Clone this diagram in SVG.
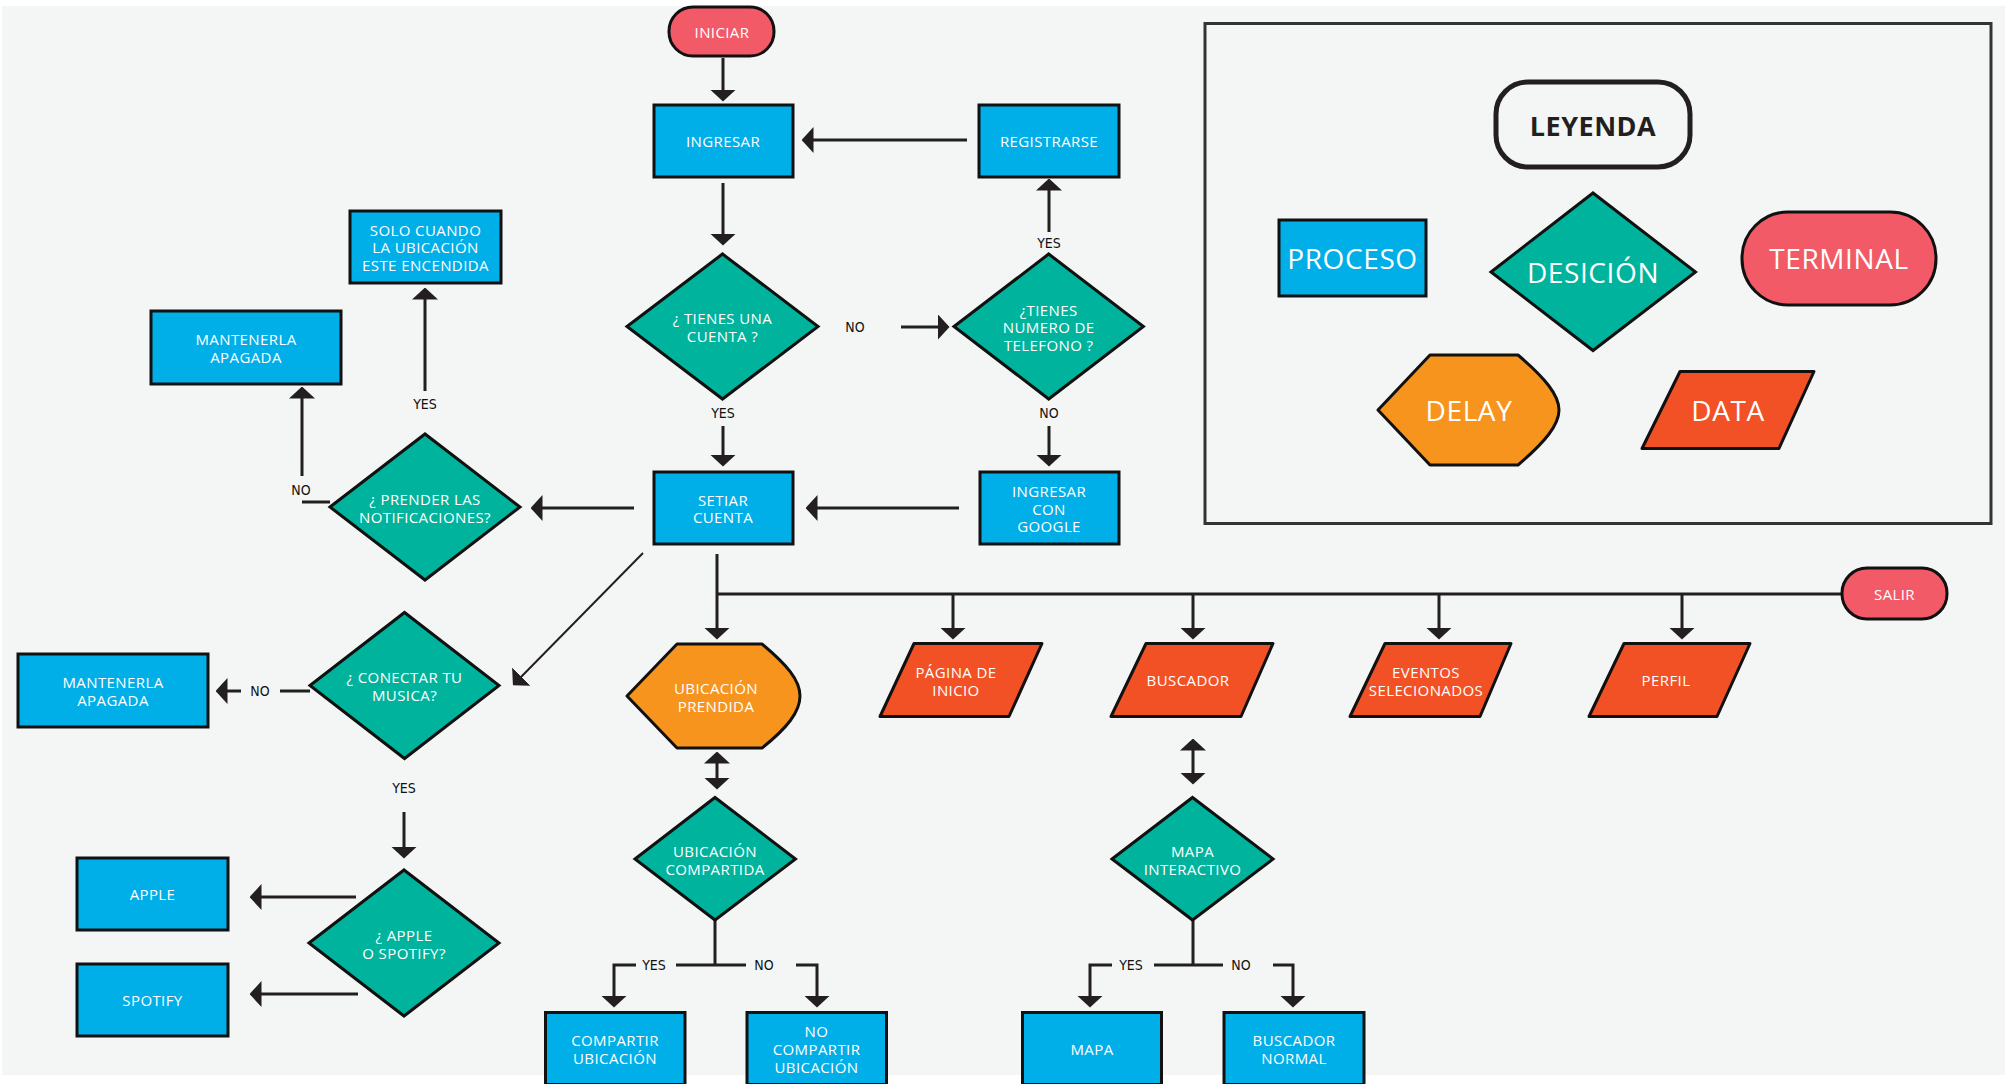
<svg xmlns="http://www.w3.org/2000/svg" width="2007" height="1084" viewBox="0 0 2007 1084">
<defs>
<marker id="ah" viewBox="0 0 12 26" markerWidth="12" markerHeight="26" refX="0.5" refY="13" orient="auto-start-reverse" markerUnits="userSpaceOnUse">
<path d="M0,0 L12,13 L0,26 Z" fill="#231f20"/>
</marker>
<style>
.proc{fill:#00aee8;stroke:#111;stroke-width:3}
.dec{fill:#00b39c;stroke:#111;stroke-width:3;stroke-linejoin:miter}
.term{fill:#f15a66;stroke:#111;stroke-width:3}
.delay{fill:#f7941e;stroke:#111;stroke-width:3;stroke-linejoin:round}
.data{fill:#f15125;stroke:#111;stroke-width:3;stroke-linejoin:round}
.t{font-family:"Open Sans","Noto Sans",sans-serif;font-size:15px;fill:#fff;text-anchor:middle;dominant-baseline:central;letter-spacing:0.4px}
.tl{font-family:"Open Sans","Noto Sans",sans-serif;font-size:28px;fill:#fff;text-anchor:middle;dominant-baseline:central;letter-spacing:0.6px}
.lab{font-family:"Liberation Sans Narrow","DejaVu Sans Condensed","Liberation Sans",sans-serif;font-size:14px;fill:#111;text-anchor:middle;dominant-baseline:central}
.c{fill:none;stroke:#231f20;stroke-width:3}
.ca{fill:none;stroke:#231f20;stroke-width:3;marker-end:url(#ah)}
</style>
</defs>
<rect x="0" y="0" width="2007" height="1084" fill="#ffffff"/>
<rect x="2" y="6" width="2003" height="1069" fill="#f4f6f5"/>

<g id="connectors">
<path class="ca" d="M723,58 L723,90"/>
<path class="ca" d="M723,183 L723,234"/>
<path class="ca" d="M967,140 L813,140"/>
<path class="ca" d="M901,327 L938,327"/>
<path class="ca" d="M1049,232 L1049,190"/>
<path class="ca" d="M723,426 L723,455"/>
<path class="ca" d="M1049,426 L1049,455"/>
<path class="ca" d="M959,508 L817,508"/>
<path class="ca" d="M634,508 L542,508"/>
<path class="ca" d="M425,391 L425,299"/>
<path class="c" d="M330,502 L302,502"/>
<path class="ca" d="M302,476 L302,398"/>
<path class="ca" style="stroke-width:2" d="M643,553 L521,677"/>
<path class="c" d="M310,691 L280,691"/>
<path class="ca" d="M241,691 L227,691"/>
<path class="ca" d="M404,812 L404,847"/>
<path class="ca" d="M356,897 L261,897"/>
<path class="ca" d="M358,994 L261,994"/>
<path class="ca" d="M717,554 L717,628"/>
<path class="c" d="M717,594 L1842,594"/>
<path class="ca" d="M953,594 L953,628"/>
<path class="ca" d="M1193,594 L1193,628"/>
<path class="ca" d="M1439,594 L1439,628"/>
<path class="ca" d="M1682,594 L1682,628"/>
<path class="c" style="marker-start:url(#ah);marker-end:url(#ah)" d="M717,763 L717,778"/>
<path class="c" style="marker-start:url(#ah);marker-end:url(#ah)" d="M1193,750 L1193,773"/>
<path class="c" d="M715,920 L715,965"/>
<path class="c" d="M676,965 L746,965"/>
<path class="ca" d="M636,965 L614,965 L614,996"/>
<path class="ca" d="M796,965 L817,965 L817,996"/>
<path class="c" d="M1193,920 L1193,965"/>
<path class="c" d="M1154,965 L1223,965"/>
<path class="ca" d="M1112,965 L1090,965 L1090,996"/>
<path class="ca" d="M1273,965 L1293,965 L1293,996"/>
<text class="lab" x="855" y="327">NO</text>
<text class="lab" x="1049" y="243">YES</text>
<text class="lab" x="723" y="413">YES</text>
<text class="lab" x="1049" y="413">NO</text>
<text class="lab" x="425" y="404">YES</text>
<text class="lab" x="301" y="490">NO</text>
<text class="lab" x="260" y="691">NO</text>
<text class="lab" x="404" y="788">YES</text>
<text class="lab" x="654" y="965">YES</text>
<text class="lab" x="764" y="965">NO</text>
<text class="lab" x="1131" y="965">YES</text>
<text class="lab" x="1241" y="965">NO</text>
</g>

<g id="iniciar"><rect class="term" x="669" y="7" width="105" height="49" rx="24"/><text class="t" x="722" y="32">INICIAR</text></g>
<g id="ingresar"><rect class="proc" x="654" y="105" width="139" height="72"/><text class="t" x="723" y="141">INGRESAR</text></g>
<g id="registrarse"><rect class="proc" x="979" y="105" width="140" height="72"/><text class="t" x="1049" y="141">REGISTRARSE</text></g>
<g id="tienes-cuenta"><polygon class="dec" points="627,326.5 722.5,254 818,326.5 722.5,399"/><text class="t" x="722.5" y="318">¿ TIENES UNA</text><text class="t" x="722.5" y="336">CUENTA ?</text></g>
<g id="tienes-telefono"><polygon class="dec" points="954,326.5 1048.7,254 1143.4,326.5 1048.7,399"/><text class="t" x="1048.7" y="310">¿TIENES</text><text class="t" x="1048.7" y="327">NUMERO DE</text><text class="t" x="1048.7" y="345">TELEFONO ?</text></g>
<g id="setiar"><rect class="proc" x="654" y="472" width="139" height="72"/><text class="t" x="723" y="500">SETIAR</text><text class="t" x="723" y="517">CUENTA</text></g>
<g id="google"><rect class="proc" x="980" y="472" width="139" height="72"/><text class="t" x="1049" y="491">INGRESAR</text><text class="t" x="1049" y="508.5">CON</text><text class="t" x="1049" y="526">GOOGLE</text></g>
<g id="prender"><polygon class="dec" points="330,507 425,434 520,507 425,580"/><text class="t" x="425" y="499">¿ PRENDER LAS</text><text class="t" x="425" y="517">NOTIFICACIONES?</text></g>
<g id="solo-cuando"><rect class="proc" x="350" y="211" width="151" height="72"/><text class="t" x="425.5" y="230">SOLO CUANDO</text><text class="t" x="425.5" y="247">LA UBICACIÓN</text><text class="t" x="425.5" y="265">ESTE ENCENDIDA</text></g>
<g id="mantener-1"><rect class="proc" x="151" y="311" width="190" height="73"/><text class="t" x="246" y="339">MANTENERLA</text><text class="t" x="246" y="357">APAGADA</text></g>
<g id="conectar"><polygon class="dec" points="310,685.5 404.5,612.5 499,685.5 404.5,758.5"/><text class="t" x="404.5" y="677">¿ CONECTAR TU</text><text class="t" x="404.5" y="695">MUSICA?</text></g>
<g id="mantener-2"><rect class="proc" x="18" y="654" width="190" height="73"/><text class="t" x="113" y="682">MANTENERLA</text><text class="t" x="113" y="700">APAGADA</text></g>
<g id="apple-spotify"><polygon class="dec" points="309,943 404,870 499,943 404,1016"/><text class="t" x="404" y="935">¿ APPLE</text><text class="t" x="404" y="953">O SPOTIFY?</text></g>
<g id="apple"><rect class="proc" x="77" y="858" width="151" height="72"/><text class="t" x="152.5" y="894">APPLE</text></g>
<g id="spotify"><rect class="proc" x="77" y="964" width="151" height="72"/><text class="t" x="152.5" y="1000">SPOTIFY</text></g>
<g id="ubicacion-prendida"><path class="delay" d="M677,644 L762,644 C787,665 800,680 800,696 C800,712 787,728 762,748 L677,748 L627,696 Z"/><text class="t" x="716" y="688">UBICACIÓN</text><text class="t" x="716" y="706">PRENDIDA</text></g>
<g id="ubicacion-compartida"><polygon class="dec" points="635,859 715,797.5 795.5,859 715,920"/><text class="t" x="715" y="850.5">UBICACIÓN</text><text class="t" x="715" y="869">COMPARTIDA</text></g>
<g id="compartir"><rect class="proc" x="545.5" y="1012.5" width="139.5" height="72"/><text class="t" x="615" y="1040">COMPARTIR</text><text class="t" x="615" y="1058">UBICACIÓN</text></g>
<g id="no-compartir"><rect class="proc" x="747" y="1012.5" width="139.5" height="72"/><text class="t" x="816.5" y="1031">NO</text><text class="t" x="816.5" y="1049">COMPARTIR</text><text class="t" x="816.5" y="1067">UBICACIÓN</text></g>
<g id="pagina-inicio"><path class="data" d="M914,643.5 L1042,643.5 L1009,716.5 L880,716.5 Z"/><text class="t" x="956" y="672">PÁGINA DE</text><text class="t" x="956" y="689.5">INICIO</text></g>
<g id="buscador"><path class="data" d="M1146,643.5 L1273,643.5 L1241,716.5 L1111,716.5 Z"/><text class="t" x="1188" y="680">BUSCADOR</text></g>
<g id="eventos"><path class="data" d="M1385,643.5 L1511,643.5 L1480,716.5 L1350,716.5 Z"/><text class="t" x="1426" y="671.5">EVENTOS</text><text class="t" x="1426" y="689.5">SELECIONADOS</text></g>
<g id="perfil"><path class="data" d="M1624,643.5 L1750,643.5 L1717,716.5 L1589,716.5 Z"/><text class="t" x="1666" y="680">PERFIL</text></g>
<g id="mapa-interactivo"><polygon class="dec" points="1112,859 1192.5,797.5 1273,859 1192.5,920"/><text class="t" x="1192.5" y="850.5">MAPA</text><text class="t" x="1192.5" y="869">INTERACTIVO</text></g>
<g id="mapa"><rect class="proc" x="1022.5" y="1012.5" width="139" height="72"/><text class="t" x="1092" y="1049">MAPA</text></g>
<g id="buscador-normal"><rect class="proc" x="1224" y="1012.5" width="140" height="72"/><text class="t" x="1294" y="1040">BUSCADOR</text><text class="t" x="1294" y="1058">NORMAL</text></g>
<g id="salir"><rect class="term" x="1842" y="568" width="105" height="51" rx="25"/><text class="t" x="1894.5" y="593.5">SALIR</text></g>

<g id="leyenda">
<rect x="1205" y="23.5" width="786" height="500" fill="none" stroke="#333" stroke-width="3"/>
<rect x="1496" y="82" width="194" height="85" rx="32" fill="none" stroke="#231f20" stroke-width="5"/>
<text x="1593" y="125" font-family="'Open Sans','Noto Sans',sans-serif" font-size="27" font-weight="bold" fill="#231f20" text-anchor="middle" dominant-baseline="central" letter-spacing="0.5">LEYENDA</text>
<rect class="proc" x="1279" y="220" width="147" height="76"/><text class="tl" x="1352.5" y="258">PROCESO</text>
<polygon class="dec" points="1491,272 1593,193 1695.5,272 1593,350.5"/><text class="tl" x="1593" y="272">DESICIÓN</text>
<rect class="term" x="1742" y="212" width="194" height="93" rx="46"/><text class="tl" x="1839" y="258">TERMINAL</text>
<path class="delay" d="M1430,355 L1518,355 C1545,378 1559,395 1559,410 C1559,425 1545,442 1518,465 L1430,465 L1378,410 Z"/><text class="tl" x="1469" y="410">DELAY</text>
<path class="data" d="M1680,371.5 L1814,371.5 L1779,448.5 L1642,448.5 Z"/><text class="tl" x="1728" y="410">DATA</text>
</g>
</svg>
